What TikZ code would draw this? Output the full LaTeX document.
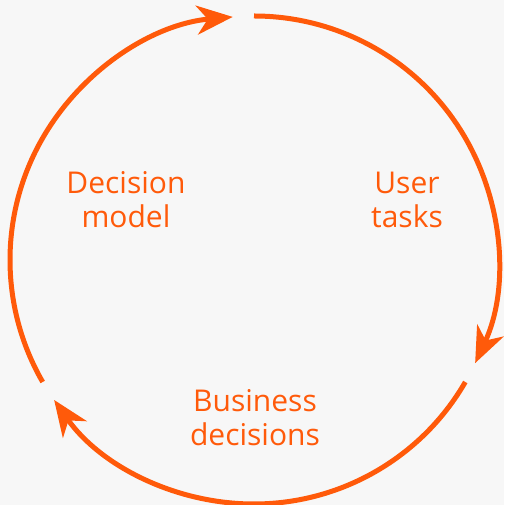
\documentclass[tikz,border=0pt]{standalone}
\usepackage{fontspec}
\setmainfont{Open Sans}
\usepackage{tikz}
\usetikzlibrary{arrows.meta, positioning}

\definecolor{cycleorange}{HTML}{FF5A0A}
\definecolor{pagegray}{HTML}{F7F7F7}

\begin{document}
\begin{tikzpicture}[x=1pt, y=1pt,
    cyclearc/.style={draw=cycleorange, line width=5pt,
        -{Stealth[length=36pt, width=29pt, inset=11pt]}},
    phasetext/.style={text=cycleorange, align=center,
        font=\fontsize{30}{34}\selectfont}
    ]
    % page
    \fill[pagegray] (0,0) rectangle (504,505);
    \useasboundingbox (0,0) rectangle (504,505);

    \coordinate (hub) at (254,245);

    % the three arcs of the cycle
    \draw[cyclearc] ([shift={(90:244)}]hub) arc[start angle=90, end angle=-25, radius=244];
    \draw[cyclearc] ([shift={(-30:244)}]hub) arc[start angle=-30, end angle=-145, radius=244];
    \draw[cyclearc] ([shift={(210:244)}]hub) arc[start angle=210, end angle=95, radius=244];

    \node[phasetext] (user) at (407,305) {User\\tasks};
    \node[phasetext] (business) at (255,87) {Business\\decisions};
    \node[phasetext] (decision) at (126,305) {Decision\\model};
\end{tikzpicture}
\end{document}
